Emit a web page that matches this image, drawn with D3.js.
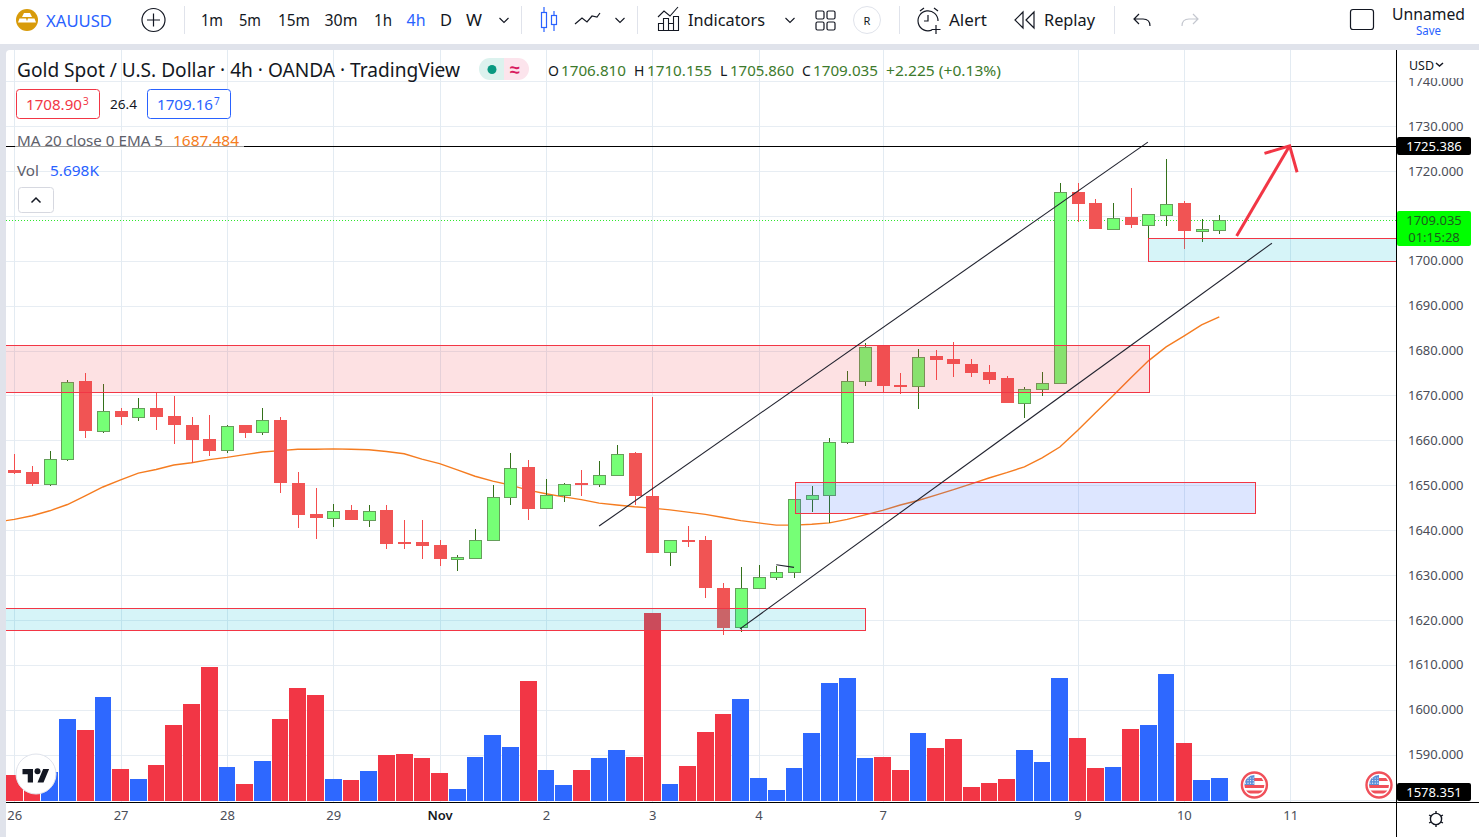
<!DOCTYPE html>
<html>
<head>
<meta charset="utf-8">
<script src="https://cdn.jsdelivr.net/npm/d3@7/dist/d3.min.js"></script>
<style>
html,body{margin:0;padding:0;background:#e0e3eb;overflow:hidden}
svg{display:block}
text{font-family:"Noto Sans",sans-serif}
</style>
</head>
<body>
<svg id="chart" width="1479" height="837"></svg>
<script>
const highs=[1657.0,1654.2,1657.7,1673.5,1675.1,1672.65,1667.2,1669.5,1670.7,1669.8,1665.1,1665.7,1663.5,1663.3,1667.1,1665.3,1653.05,1649.3,1645.9,1645.5,
1645.7,1645.7,1642.2,1642.2,1637.9,1634.4,1640.2,1650.0,1657.1,1655.7,1651.3,1650.6,1653.3,1655.5,1658.9,1657.5,1669.6,1637.9,1640.95,1638.6,
1628.3,1631.7,1632.3,1632.1,1647.0,1649.9,1660.5,1675.5,1681.7,1680.9,1674.9,1680.4,1680.2,1682.0,1678.0,1676.7,1674.4,1671.8,1675.3,1717.25,
1717.25,1713.7,1712.8,1716.1,1710.3,1722.6,1713.2,1709.2,1710.155];
const lows=[1652.4,1649.9,1649.9,1655.4,1660.6,1661.6,1663.3,1664.2,1662.4,1659.1,1655.0,1656.4,1657.1,1660.6,1661.1,1648.2,1640.4,1638.1,1640.8,1642.2,
1640.8,1635.7,1635.7,1633.5,1631.9,1630.8,1633.5,1637.8,1645.7,1642.2,1644.9,1646.2,1647.5,1649.7,1652.0,1645.7,1634.9,1631.9,1636.2,1624.8,
1616.7,1617.3,1627.1,1628.8,1629.4,1644.1,1641.5,1659.1,1672.2,1670.8,1670.4,1666.9,1673.5,1674.0,1674.2,1672.6,1668.2,1664.9,1669.8,1672.6,
1708.6,1707.0,1707.0,1707.2,1705.15,1707.7,1702.55,1704.1,1705.86];
const opens=[1653.3,1653.05,1650.2,1655.9,1673.1,1662.1,1666.6,1665.2,1667.3,1665.5,1663.5,1660.2,1657.8,1663.3,1661.8,1664.6,1650.6,1643.5,1642.7,1644.4,
1642.2,1644.4,1637.3,1637.3,1636.6,1633.5,1633.8,1637.8,1647.4,1654.0,1644.9,1647.8,1650.4,1650.25,1652.3,1657.1,1647.7,1635.1,1637.9,1637.9,
1627.2,1618.4,1627.1,1629.5,1630.6,1646.9,1647.8,1659.6,1673.2,1680.9,1672.4,1672.1,1678.7,1678.0,1677.1,1675.3,1673.8,1668.3,1671.4,1672.7,
1715.25,1712.8,1707.15,1709.7,1708.0,1710.2,1712.8,1706.7,1706.81];
const closes=[1652.8,1650.2,1655.9,1673.0,1662.0,1666.6,1665.1,1667.2,1665.3,1663.3,1660.0,1657.7,1663.2,1661.7,1664.6,1650.4,1643.3,1642.6,1644.3,1642.2,
1644.3,1637.0,1637.0,1636.4,1633.5,1633.9,1637.9,1647.4,1653.9,1644.8,1647.9,1650.3,1650.2,1652.3,1657.0,1647.5,1635.0,1637.9,1637.7,1627.0,
1618.3,1627.2,1629.6,1630.7,1647.0,1647.9,1659.7,1673.2,1680.8,1672.2,1672.0,1678.6,1677.8,1676.9,1675.1,1673.5,1668.2,1671.5,1672.8,1715.2,
1712.6,1707.0,1709.6,1707.9,1710.3,1712.7,1706.6,1707.0,1709.035];
const volumes=[6.44,6.0,7.18,20.31,17.59,25.76,7.93,5.45,8.92,18.83,24.03,33.19,8.42,4.21,9.91,20.31,27.99,26.26,5.45,5.2,
7.43,11.39,11.64,10.65,6.94,2.97,10.9,16.35,13.38,29.73,7.68,3.96,7.68,10.65,12.63,10.9,46.57,4.21,8.67,17.09,
21.55,25.27,5.7,2.72,8.17,16.84,29.23,30.47,10.65,10.9,7.68,16.84,13.13,15.36,3.47,4.46,5.45,12.63,9.66,30.47,
15.61,8.17,8.42,17.84,18.83,31.46,14.37,5.2,5.698];
// EMA values for bar index -1, 0, 1, ...
const emaValues=[1641.8,1642.4,1643.2,1644.3,1645.7,1647.6,1649.6,1651.2,1652.7,1653.5,1654.5,1655.0,1655.7,1656.2,1656.8,1657.4,1657.7,1658.0,1658.0,1658.1,1658.0,
1657.9,1657.5,1657.0,1655.8,1654.8,1653.4,1652.0,1650.9,1650.0,1648.9,1648.1,1647.4,1646.8,1646.0,1645.6,1645.2,1644.9,1644.5,1644.0,
1643.5,1642.8,1642.1,1641.6,1641.1,1641.1,1641.3,1641.6,1642.4,1643.4,1644.4,1645.6,1646.6,1647.8,1649.0,1650.3,1651.6,1652.8,1654.1,1656.1,1658.5,1662.2,
1666.1,1669.9,1673.9,1677.7,1680.8,1683.2,1685.7,1687.484];
const dayBars=[0,6,12,18,24,30,36,42,49,60,66,72];
const dayLabels=["26","27","28","29","Nov","2","3","4","7","9","10","11"];
const priceLabels=[1590,1600,1610,1620,1630,1640,1650,1660,1670,1680,1690,1700,1710,1720,1730,1740];
const priceGrid=[1580].concat(priceLabels);
const timeframes=["1m","5m","15m","30m","1h","4h","D","W"];
const zones=[
 {from:-2,to:64,top:1681.3,bottom:1670.9,fill:"rgba(242,54,69,0.15)"},
 {from:-2,to:48.02,top:1622.6,bottom:1617.7,fill:"rgba(0,188,212,0.16)"},
 {from:44.03,to:69.99,top:1650.8,bottom:1643.8,fill:"rgba(41,98,255,0.16)"},
 {from:64,to:85,top:1705.0,bottom:1699.9,fill:"rgba(0,188,212,0.16)"}
];
const trendLines=[
 {a:[33,1640.9],b:[63.97,1726.4]},
 {a:[40.95,1618.0],b:[70.97,1703.9]},
 {a:[43,1632.3],b:[44,1631.7]}
];
const arrowPath=[[68.98,1705.5],[71.97,1725.6]];
const arrowBarbs=[[70.55,1723.9],[71.97,1725.6],[72.39,1719.7]];
const hline=1725.386, lastPrice=1709.035, volLabel=1578.351;

const svg=d3.select("#chart");
const W=1479,H=837,plotL=6,plotT=50,plotR=1396,plotB=802;
const x=d3.scaleLinear().domain([0,68]).range([14.3,1219.3]);
const y=d3.scaleLinear().domain([1730,1580]).range([126,799.5]);
const v=d3.scaleLinear().domain([0,46.57]).range([801,613]);
const crisp=p=>Math.round(p)+0.5;

function label(g,px,py,t,o={}){
  const e=g.append("text").attr("x",px).attr("y",py).text(t)
    .attr("font-size",o.size||14).attr("fill",o.fill||"#131722")
    .attr("dominant-baseline","central").attr("text-anchor",o.anchor||"start");
  if(o.w) e.attr("textLength",o.w).attr("lengthAdjust","spacingAndGlyphs");
  if(o.weight) e.attr("font-weight",o.weight);
  return e;
}

// backgrounds
svg.append("rect").attr("width",W).attr("height",H).attr("fill","#e0e3eb");
svg.append("rect").attr("width",W).attr("height",44).attr("fill","#fff");
svg.append("path").attr("d",`M${plotL} ${plotT+4}Q${plotL} ${plotT} ${plotL+4} ${plotT}H${W-4}Q${W} ${plotT} ${W} ${plotT+4}V${H}H${plotL}Z`).attr("fill","#fff");

const defs=svg.append("defs");
defs.append("clipPath").attr("id","plot").append("rect").attr("x",plotL).attr("y",plotT).attr("width",plotR-plotL).attr("height",plotB-plotT);

const plot=svg.append("g").attr("clip-path","url(#plot)");
// grid
plot.append("g").selectAll("line").data(priceGrid).join("line")
 .attr("x1",plotL).attr("x2",plotR).attr("y1",d=>crisp(y(d))).attr("y2",d=>crisp(y(d)))
 .attr("stroke","#e7edf3").attr("shape-rendering","crispEdges");
plot.append("g").selectAll("line").data(dayBars).join("line")
 .attr("y1",plotT).attr("y2",plotB).attr("x1",d=>crisp(x(d))).attr("x2",d=>crisp(x(d)))
 .attr("stroke","#e3ebf2").attr("shape-rendering","crispEdges");

// volume
const bars=d3.range(volumes.length);
const up=i=>closes[i]>=opens[i];
plot.append("g").selectAll("rect").data(bars).join("rect")
 .attr("x",i=>x(i)-8.35).attr("width",16.7)
 .attr("y",i=>v(volumes[i])).attr("height",i=>v(0)-v(volumes[i]))
 .attr("fill",i=>up(i)?"#2e68ff":"#f23645").attr("shape-rendering","crispEdges");

// dotted last price
plot.append("line").attr("x1",plotL).attr("x2",plotR).attr("y1",crisp(y(lastPrice))).attr("y2",crisp(y(lastPrice)))
 .attr("stroke","#2ee82e").attr("stroke-dasharray","1 2");

// EMA
plot.append("path").datum(emaValues)
 .attr("d",d3.line().x((d,i)=>x(i-1)).y(d=>y(d)))
 .attr("fill","none").attr("stroke","#f57c20").attr("stroke-width",1.4);

// candles
const candles=plot.append("g").selectAll("g").data(bars).join("g");
candles.append("line").attr("x1",i=>crisp(x(i))-0.5+0.5).attr("x2",i=>crisp(x(i)))
 .attr("y1",i=>y(highs[i])).attr("y2",i=>y(lows[i]))
 .attr("stroke",i=>up(i)?"#33701a":"#f44d4d").attr("stroke-width",1.1).attr("shape-rendering","crispEdges");
candles.append("rect")
 .attr("x",i=>up(i)?Math.round(x(i))-5.5:Math.round(x(i))-6)
 .attr("width",i=>up(i)?12:13)
 .attr("y",i=>Math.round(y(Math.max(opens[i],closes[i])))+(up(i)?0.5:0))
 .attr("height",i=>Math.max(up(i)?1:2,Math.round(y(Math.min(opens[i],closes[i])))-Math.round(y(Math.max(opens[i],closes[i])))))
 .attr("fill",i=>up(i)?"#76ff76":"#f15454")
 .attr("stroke",i=>up(i)?"#659f5b":"none").attr("stroke-width",1)
 .attr("shape-rendering","crispEdges");

// zones
plot.append("g").selectAll("rect").data(zones).join("rect")
 .attr("x",d=>crisp(x(d.from))).attr("width",d=>Math.round(x(d.to)-x(d.from)))
 .attr("y",d=>crisp(y(d.top))).attr("height",d=>Math.round(y(d.bottom)-y(d.top)))
 .attr("fill",d=>d.fill).attr("stroke","#f23645").attr("stroke-width",1.2).attr("shape-rendering","crispEdges");

// trend lines
plot.append("g").selectAll("line").data(trendLines).join("line")
 .attr("x1",d=>x(d.a[0])).attr("y1",d=>y(d.a[1])).attr("x2",d=>x(d.b[0])).attr("y2",d=>y(d.b[1]))
 .attr("stroke","#20222e").attr("stroke-width",1.1);
// horizontal
plot.append("line").attr("x1",plotL).attr("x2",plotR).attr("y1",146.5).attr("y2",146.5)
 .attr("stroke","#000").attr("stroke-width",1).attr("shape-rendering","crispEdges");
// arrow
const ln=d3.line().x(d=>x(d[0])).y(d=>y(d[1]));
plot.append("path").attr("d",ln(arrowPath)).attr("stroke","#f23645").attr("stroke-width",3).attr("fill","none");
plot.append("path").attr("d",ln(arrowBarbs)).attr("stroke","#f23645").attr("stroke-width",3).attr("fill","none");

// TV logo
const logo=plot.append("g");
logo.append("circle").attr("cx",36).attr("cy",774).attr("r",20).attr("fill","#fff").attr("stroke","#e0e3eb");
const lg=logo.append("g").attr("transform","translate(22.5,766) scale(0.75)").attr("fill","#131722");
lg.append("path").attr("d","M14 22H7V11H0V4h14v18zM28 22h-8l7.5-18h8L28 22z");
lg.append("circle").attr("cx",20).attr("cy",7).attr("r",4);

// flags
[1254.4,1379].forEach((cx,k)=>{
  const cy=785,f=plot.append("g");
  const id="flag"+k;
  defs.append("clipPath").attr("id",id).append("circle").attr("cx",cx).attr("cy",cy).attr("r",10);
  f.append("circle").attr("cx",cx).attr("cy",cy).attr("r",12.5).attr("fill","#fff").attr("stroke","#f0505a").attr("stroke-width",2.4);
  const c=f.append("g").attr("clip-path",`url(#${id})`);
  [-5.5,0,5.5].forEach(dy=>c.append("rect").attr("x",cx-11).attr("y",cy+dy+(dy<0?-1.5:0)).attr("width",22).attr("height",3).attr("fill","#f0505a"));
  c.append("rect").attr("x",cx-11).attr("y",cy-11).attr("width",11).attr("height",11).attr("fill","#5b8fd8");
  d3.range(4).forEach(a=>d3.range(3).forEach(b=>c.append("circle").attr("cx",cx-9+a*2.6).attr("cy",cy-7+b*2.6).attr("r",.6).attr("fill","#fff")));
});

// axes
const yAxisG=svg.append("g").attr("transform",`translate(${plotR},0)`)
 .call(d3.axisRight(y).tickValues(priceLabels).tickSize(0).tickPadding(12).tickFormat(d3.format(".3f")));
yAxisG.select(".domain").remove();
yAxisG.selectAll("text").attr("font-size",13).attr("fill","#4a4d57").attr("font-family",'"Noto Sans",sans-serif');
const xAxisG=svg.append("g").attr("transform",`translate(0,${plotB})`)
 .call(d3.axisBottom(x).tickValues(dayBars).tickSize(0).tickPadding(9).tickFormat((d,i)=>dayLabels[i]));
xAxisG.select(".domain").remove();
xAxisG.selectAll("text").attr("font-size",13).attr("fill",(d,i)=>dayLabels[i]==="Nov"?"#131722":"#4a4d57")
 .attr("font-weight",(d,i)=>dayLabels[i]==="Nov"?600:400).attr("font-family",'"Noto Sans",sans-serif');

// axis chrome
svg.append("rect").attr("x",plotR+1).attr("y",plotT).attr("width",W-plotR-1).attr("height",28).attr("fill","#fff");
svg.append("line").attr("x1",plotR+.5).attr("x2",plotR+.5).attr("y1",plotT).attr("y2",H).attr("stroke","#000").attr("shape-rendering","crispEdges");
svg.append("line").attr("x1",plotL).attr("x2",W).attr("y1",plotB+.5).attr("y2",plotB+.5).attr("stroke","#000").attr("shape-rendering","crispEdges");
const ax=svg.append("g");
label(ax,1409,65,"USD",{size:13,w:25,fill:"#131722"});
ax.append("path").attr("d","M1436 63l3.5 3l3.5-3").attr("fill","none").attr("stroke","#131722").attr("stroke-width",1.5);
function tag(py,h,bg,lines,fg){
  ax.append("rect").attr("x",plotR+1).attr("y",py).attr("width",74).attr("height",h).attr("rx",2).attr("fill",bg);
  lines.forEach((t,i)=>label(ax,1434,py+h/(lines.length*2)*(2*i+1),t,{size:13,fill:fg,anchor:"middle"}));
}
tag(137,18,"#000",[d3.format(".3f")(hline)],"#fff");
tag(211,35,"#00ff00",[d3.format(".3f")(lastPrice),"01:15:28"],"#1d5b1d");
tag(783,18,"#000",[d3.format(".3f")(volLabel)],"#fff");
// gear
const gear=ax.append("g").attr("transform","translate(1436,819)").attr("stroke","#131722").attr("fill","none").attr("stroke-width",1.4);
gear.append("circle").attr("r",5.6);
[30,90,150,210,270,330].forEach(a=>gear.append("line").attr("x1",5.6).attr("x2",8).attr("transform",`rotate(${a})`));

// legend
const lgd=svg.append("g");
label(lgd,17,70,"Gold Spot / U.S. Dollar · 4h · OANDA · TradingView",{size:19,w:443,fill:"#131722"});
lgd.append("path").attr("d","M504 58H490a11 11 0 0 0 0 22H504Z").attr("fill","#dcf2ee");
lgd.append("path").attr("d","M504 58H518a11 11 0 0 1 0 22H504Z").attr("fill","#fce4ec");
lgd.append("circle").attr("cx",492).attr("cy",69.5).attr("r",4.5).attr("fill","#089981");
label(lgd,515,69,"≈",{size:18,fill:"#d81b60",anchor:"middle",weight:700});
const ohlcGreen="#3d7a2c";
[[548,"O",0],[561,"1706.810",1],[634,"H",0],[647,"1710.155",1],[720,"L",0],[730,"1705.860",1],[802,"C",0],[813,"1709.035",1],[886,"+2.225 (+0.13%)",1]].forEach(r=>{
  const e=label(lgd,r[0],70.5,r[1],{size:14,fill:r[2]?ohlcGreen:"#131722"});
  if(r[1].length===8) e.attr("textLength",r[0]===730?64:65).attr("lengthAdjust","spacingAndGlyphs");
  if(r[1].startsWith("+")) e.attr("textLength",115).attr("lengthAdjust","spacingAndGlyphs");
});
lgd.append("rect").attr("x",16.5).attr("y",89.5).attr("width",83).attr("height",29).attr("rx",3).attr("fill","#fff").attr("stroke","#f23645");
label(lgd,26,104,"1708.90",{size:14,fill:"#f23645",w:56});
label(lgd,83,101,"3",{size:10,fill:"#f23645"});
label(lgd,110,104,"26.4",{size:13,fill:"#131722",w:27});
lgd.append("rect").attr("x",147.5).attr("y",89.5).attr("width",83).attr("height",29).attr("rx",3).attr("fill","#fff").attr("stroke","#2962ff");
label(lgd,157,104,"1709.16",{size:14,fill:"#2962ff",w:56});
label(lgd,214,101,"7",{size:10,fill:"#2962ff"});
lgd.append("rect").attr("x",15).attr("y",131).attr("width",229).attr("height",19).attr("fill","#fff").attr("opacity",.62);
label(lgd,17,140,"MA 20 close 0 EMA 5",{size:14,fill:"#5d606b",w:146});
label(lgd,173,140,"1687.484",{size:14,fill:"#f57c20",w:66});
label(lgd,17,170,"Vol",{size:14,fill:"#5d606b",w:22});
label(lgd,50,170,"5.698K",{size:14,fill:"#2962ff",w:49});
lgd.append("rect").attr("x",18.5).attr("y",187.5).attr("width",35).attr("height",25).attr("rx",3).attr("fill","#fff").attr("stroke","#d6d8e0");
lgd.append("path").attr("d","M31.5 202.5l4.5-4.5l4.5 4.5").attr("fill","none").attr("stroke","#131722").attr("stroke-width",1.5);

// toolbar
const tb=svg.append("g");
tb.append("circle").attr("cx",27).attr("cy",20).attr("r",11).attr("fill","#d89b0a");
tb.append("path").attr("d","M24 13h6l2 4h-10zM19.5 18.5h6.5l1.5 4h-9.5zM28 18.5h6.5l1.5 4h-9.5z").attr("fill","#fff");
label(tb,46,20,"XAUUSD",{size:17,fill:"#2962ff",w:66});
tb.append("circle").attr("cx",153.5).attr("cy",20).attr("r",11.5).attr("fill","none").attr("stroke","#131722").attr("stroke-width",1.2);
tb.append("path").attr("d","M153.5 13.5v13M147 20h13").attr("stroke","#131722").attr("stroke-width",1.2);
[[212,22],[250,22],[294,32],[341,33],[383,18],[416,19],[446,12],[474,16]].forEach((p,i)=>{
  label(tb,p[0],20,timeframes[i],{size:16,anchor:"middle",w:p[1],fill:timeframes[i]==="4h"?"#2962ff":"#131722"});
});
const chev=(cx,cy=20)=>tb.append("path").attr("d",`M${cx-4.5} ${cy-2}l4.5 4.5l4.5-4.5`).attr("fill","none").attr("stroke","#131722").attr("stroke-width",1.1);
chev(504);chev(620);chev(790);
[184.5,521.5,637.5,899.5,1114.5].forEach(sx=>tb.append("line").attr("x1",sx).attr("x2",sx).attr("y1",6).attr("y2",34).attr("stroke","#e0e3eb").attr("stroke-width",1));
// candle icon
tb.append("g").attr("stroke","#2962ff").attr("fill","none").attr("stroke-width",1.2).call(g=>{
  g.append("path").attr("d","M544 7v25M554 11v20");
  g.append("rect").attr("x",541.5).attr("y",12.5).attr("width",5).attr("height",15).attr("fill","#fff");
  g.append("rect").attr("x",551.5).attr("y",15.5).attr("width",5).attr("height",9).attr("fill","#fff");
});
tb.append("path").attr("d","M575 24l7-6l5 4l5-6l5 1l3-4").attr("fill","none").attr("stroke","#131722").attr("stroke-width",1.2);
// indicators icon
tb.append("g").attr("stroke","#131722").attr("fill","none").attr("stroke-width",1.1).call(g=>{
  g.append("path").attr("d","M658 17l6-6l6 5l8-9");
  g.append("path").attr("d","M658.5 30.5v-7h5v7zM663.5 30.5v-12h5v12zM668.5 30.5v-7h5v7zM673.5 30.5v-14h5v14z");
});
label(tb,688,20,"Indicators",{size:16,w:77});
[[816,11],[827,11],[816,22],[827,22]].forEach(p=>tb.append("rect").attr("x",p[0]).attr("y",p[1]).attr("width",8).attr("height",8).attr("rx",1.5).attr("fill","none").attr("stroke","#131722").attr("stroke-width",1.2));
tb.append("circle").attr("cx",867).attr("cy",20).attr("r",13.5).attr("fill","#fff").attr("stroke","#e0e3eb");
label(tb,867,20,"R",{size:11,anchor:"middle"});
// alarm
tb.append("g").attr("stroke","#131722").attr("fill","none").attr("stroke-width",1.2).call(g=>{
  g.append("path").attr("d","M932 30a10 10 0 1 1 6-9");
  g.append("path").attr("d","M920 11l4-3M938 11l-4-3M928 15v6h-4");
  g.append("path").attr("d","M936 25v9M931.500 29.500h9");
});
label(tb,949,20,"Alert",{size:16,w:38});
tb.append("path").attr("d","M1023 12l-8 8l8 8zM1034 12l-8 8l8 8V12z").attr("fill","none").attr("stroke","#131722").attr("stroke-width",1.2);
label(tb,1044,20,"Replay",{size:16,w:51});
tb.append("path").attr("d","M1139 14l-5 5l5 5M1134 19h9c4 0 7 2 7 7").attr("fill","none").attr("stroke","#131722").attr("stroke-width",1.2);
tb.append("path").attr("d","M1193 14l5 5l-5 5M1198 19h-9c-4 0-7 2-7 7").attr("fill","none").attr("stroke","#c4c7cf").attr("stroke-width",1.2);
tb.append("rect").attr("x",1350.5).attr("y",9.5).attr("width",23).attr("height",20).attr("rx",2.5).attr("fill","none").attr("stroke","#131722").attr("stroke-width",1.2);
label(tb,1392,14,"Unnamed",{size:16,w:73});
label(tb,1416,30,"Save",{size:12,w:25,fill:"#2962ff"});
</script>
</body>
</html>
